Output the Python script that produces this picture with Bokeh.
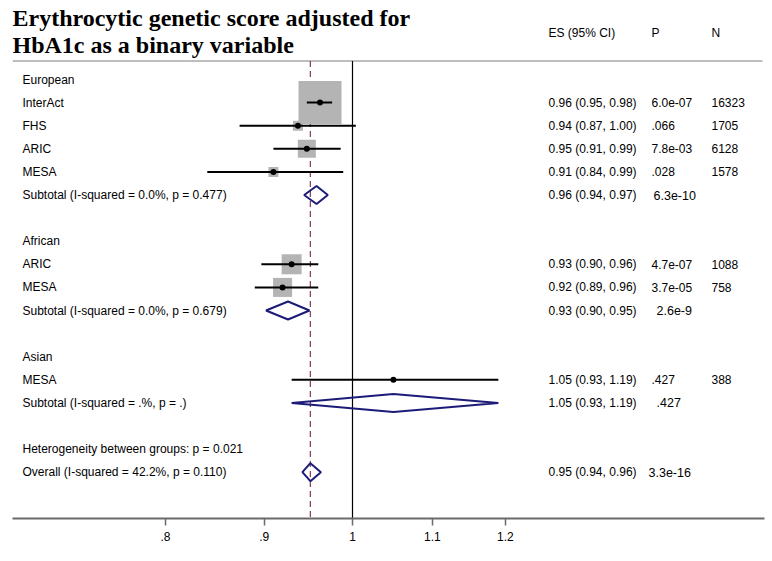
import math
from bokeh.plotting import figure
from bokeh.models import Range1d, FixedTicker
from bokeh.core.properties import value
from bokeh.embed import file_html
from bokeh.resources import INLINE

# ---------------- data ----------------
title_lines = ["Erythrocytic genetic score adjusted for", "HbA1c as a binary variable"]
headers = ["ES (95% CI)", "P", "N"]

row_labels = [
    "European", "InterAct", "FHS", "ARIC", "MESA",
    "Subtotal  (I-squared = 0.0%, p = 0.477)",
    "African", "ARIC", "MESA",
    "Subtotal  (I-squared = 0.0%, p = 0.679)",
    "Asian", "MESA",
    "Subtotal  (I-squared = .%, p = .)",
    "Heterogeneity between groups: p = 0.021",
    "Overall  (I-squared = 42.2%, p = 0.110)",
]
label_rows = [0, 1, 2, 3, 4, 5, 7, 8, 9, 10, 12, 13, 14, 16, 17]

study_rows = [1, 2, 3, 4, 8, 9, 13]
study_es = [0.962, 0.937, 0.947, 0.910, 0.930, 0.920, 1.050]
study_lo = [0.947, 0.874, 0.910, 0.841, 0.897, 0.890, 0.930]
study_hi = [0.976, 1.004, 0.986, 0.989, 0.960, 0.960, 1.190]
study_weight = [58.7, 3.2, 10.3, 3.2, 12.7, 11.5, 0.5]
study_es_text = ["0.96 (0.95, 0.98)", "0.94 (0.87, 1.00)", "0.95 (0.91, 0.99)",
                 "0.91 (0.84, 0.99)", "0.93 (0.90, 0.96)", "0.92 (0.89, 0.96)",
                 "1.05 (0.93, 1.19)"]
study_p = ["6.0e-07", ".066", "7.8e-03", ".028", "4.7e-07", "3.7e-05", ".427"]
study_n = ["16323", "1705", "6128", "1578", "1088", "758", "388"]

pooled_rows = [5, 10, 14, 17]
pooled_es = [0.958, 0.926, 1.050, 0.951]
pooled_lo = [0.944, 0.902, 0.930, 0.942]
pooled_hi = [0.971, 0.950, 1.190, 0.963]
pooled_es_text = ["0.96 (0.94, 0.97)", "0.93 (0.90, 0.95)", "1.05 (0.93, 1.19)",
                  "0.95 (0.94, 0.96)"]
pooled_p = ["6.3e-10", "2.6e-9", ".427", "3.3e-16"]

tick_values = [0.8, 0.9, 1.0, 1.1, 1.2]
tick_labels = [".8", ".9", "1", "1.1", "1.2"]

# ---------------- layout ----------------
W, H = 766, 553
M = 0
X_ONE = 352.0          # image px of x = 1
PX_PER_LOG = 838.5
ROW0_Y = 79.0          # image px of row 0
ROW_H = 23.1
FRAME_L, FRAME_R = 12, 764
FRAME_T, FRAME_B = 0, 518


def px_to_x(px):
    return math.exp((px - X_ONE) / PX_PER_LOG)


def py_to_row(py):
    return (py - ROW0_Y) / ROW_H


x_start, x_end = px_to_x(FRAME_L), px_to_x(FRAME_R)
y_bottom, y_top = py_to_row(FRAME_B), py_to_row(FRAME_T)

p = figure(width=W, height=H, x_axis_type="log",
           x_range=Range1d(x_start, x_end), y_range=Range1d(y_bottom, y_top),
           output_backend="svg", toolbar_location=None, y_axis_location=None,
           min_border_left=FRAME_L - M, min_border_right=W - (FRAME_R - M),
           min_border_top=FRAME_T - M, min_border_bottom=H - (FRAME_B - M))
p.grid.visible = False
p.outline_line_color = None
p.background_fill_color = "white"
p.border_fill_color = "white"

ax = p.xaxis[0]
ax.ticker = FixedTicker(ticks=tick_values, minor_ticks=[])
ax.major_label_overrides = {v: t for v, t in zip(tick_values, tick_labels)}
ax.axis_line_color = "#6a6a6a"
ax.axis_line_width = 2
ax.major_tick_line_color = "#6a6a6a"
ax.major_tick_line_width = 1.5
ax.major_tick_in = 0
ax.major_tick_out = 7
ax.minor_tick_line_color = None
ax.major_label_standoff = 6
ax.major_label_text_font = "Liberation Sans"
ax.major_label_text_font_size = "12px"
ax.major_label_text_color = "#000000"

FONT = value("Liberation Sans")
rule_row = py_to_row(60.5)

# title
p.text(x=[px_to_x(12)] * 2, y=[py_to_row(17.5), py_to_row(44.5)], text=title_lines,
       text_font=value("Liberation Serif"), text_font_style="bold",
       text_font_size="24px", text_baseline="middle", text_color="#000000")
# headers
p.text(x=[px_to_x(548), px_to_x(651), px_to_x(711)], y=[py_to_row(32)] * 3,
       text=headers, text_font=FONT, text_font_size="12px",
       text_baseline="middle", text_color="#000000")
# title rule
p.segment(x0=[px_to_x(12)], y0=[rule_row], x1=[px_to_x(762)], y1=[rule_row],
          line_color="#a8a8a8", line_width=1.5)

# reference lines
p.segment(x0=[1.0], y0=[rule_row], x1=[1.0], y1=[y_bottom],
          line_color="#000000", line_width=1.2)
p.segment(x0=[pooled_es[-1]], y0=[rule_row], x1=[pooled_es[-1]], y1=[y_bottom],
          line_color="#8a4660", line_width=1.3, line_dash="6 4")

# left labels
p.text(x=[px_to_x(22)] * len(row_labels), y=label_rows, text=row_labels,
       text_font=FONT, text_font_size="12px", text_baseline="middle",
       text_color="#000000")

# study boxes, CI, points
box_sizes = [5.61 * math.sqrt(w) for w in study_weight]
p.scatter(x=study_es, y=study_rows, size=box_sizes, marker="square",
          fill_color="#b4b4b4", line_color=None)
p.segment(x0=study_lo, y0=study_rows, x1=study_hi, y1=study_rows,
          line_color="#000000", line_width=2)
p.scatter(x=study_es, y=study_rows, size=6, marker="circle",
          fill_color="#000000", line_color=None)

# diamonds
half = 9.0 / ROW_H
xs = [[lo, es, hi, es] for lo, es, hi in zip(pooled_lo, pooled_es, pooled_hi)]
ys = [[r, r - half, r, r + half] for r in pooled_rows]
p.patches(xs, ys, fill_alpha=0, line_color="#1c1c78", line_width=2)

# right columns
p.text(x=[px_to_x(548)] * len(study_rows), y=study_rows, text=study_es_text,
       text_font=FONT, text_font_size="12px", text_baseline="middle", text_color="#000000")
p.text(x=[px_to_x(651)] * len(study_rows), y=study_rows, text=study_p,
       text_font=FONT, text_font_size="12px", text_baseline="middle", text_color="#000000")
p.text(x=[px_to_x(711)] * len(study_rows), y=study_rows, text=study_n,
       text_font=FONT, text_font_size="12px", text_baseline="middle", text_color="#000000")
p.text(x=[px_to_x(548)] * len(pooled_rows), y=pooled_rows, text=pooled_es_text,
       text_font=FONT, text_font_size="12px", text_baseline="middle", text_color="#000000")
p.text(x=[px_to_x(653), px_to_x(656), px_to_x(656), px_to_x(648)], y=pooled_rows,
       text=pooled_p, text_font=FONT, text_font_size="12.5px",
       text_baseline="middle", text_color="#000000")

open("out.html", "w").write(file_html(p, INLINE))
